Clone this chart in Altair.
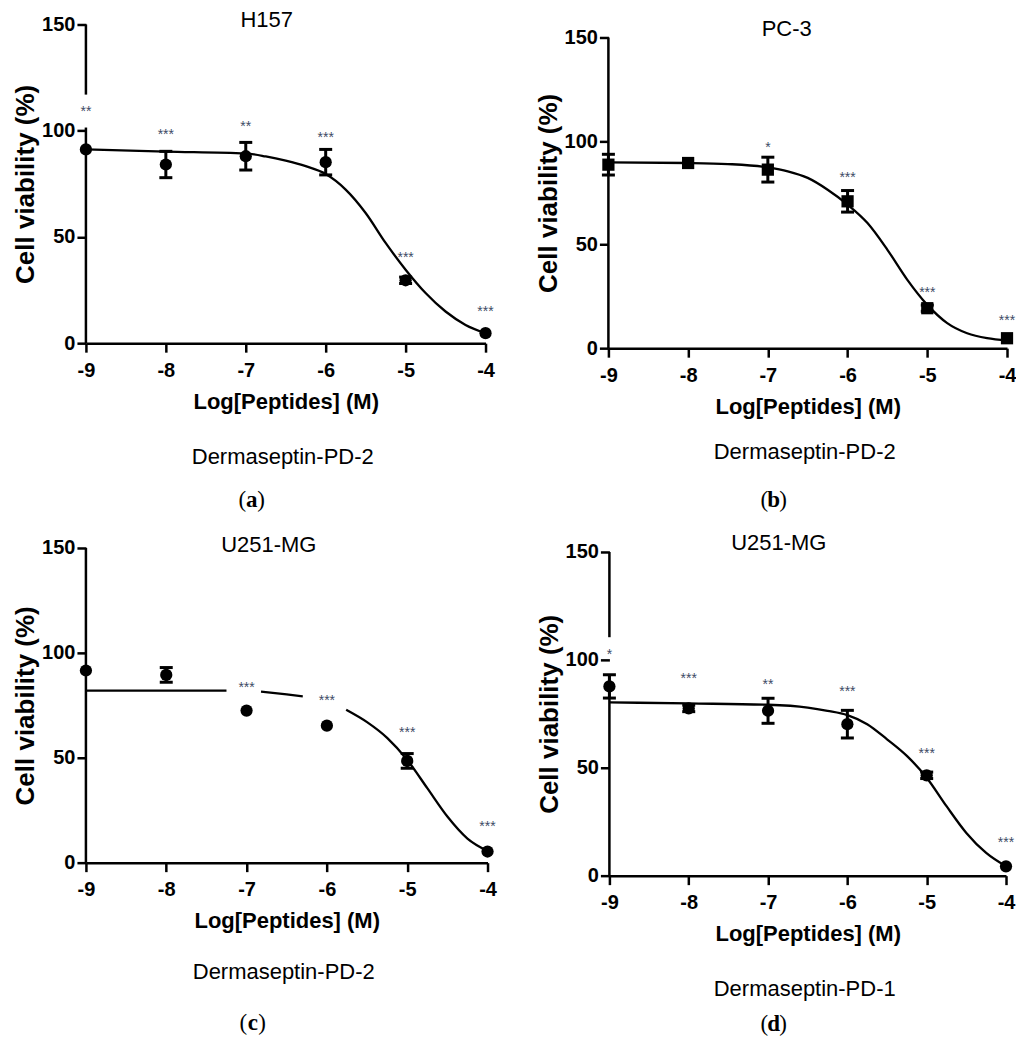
import altair as alt
import pandas as pd

doses = [-9, -8, -7, -6, -5, -4]

# ---- (a) H157, Dermaseptin-PD-2
a_mean = [91.2, 84.1, 88.0, 85.2, 29.6, 4.7]
a_err = [0, 6.2, 6.5, 6.0, 1.5, 0]
a_stars = ["**", "***", "**", "***", "***", "***"]
a_star_y = [110, 99.5, 103, 97.8, 41.6, 16]
a_curve_x = [-9, -8, -7, -6.75, -6.5, -6.25, -6, -5.75, -5.5, -5.25, -5, -4.75, -4.5, -4.25, -4]
a_curve_y = [91.2, 90.2, 89.3, 87.9, 85.9, 83.3, 79.6, 72.3, 61.3, 47.2, 34.6, 23.6, 14.9, 8.6, 4.7]
a_curve_seg = [0] * 15
a_axis_lo = [0, 117]
a_axis_hi = [101.5, 150]

# ---- (b) PC-3, Dermaseptin-PD-2
b_mean = [88.6, 89.4, 86.2, 70.9, 19.3, 4.8]
b_err = [5.0, 0, 6.0, 5.2, 1.5, 0]
b_stars = ["", "", "*", "***", "***", "***"]
b_star_y = [0, 0, 98.3, 83.8, 28.2, 14.8]
b_curve_x = [-9, -8, -7.5, -7, -6.75, -6.5, -6.25, -6, -5.75, -5.5, -5.25, -5, -4.75, -4.5, -4.25, -4]
b_curve_y = [89.7, 89.4, 88.9, 87.3, 85.4, 82.2, 76.5, 69.3, 60.4, 47.5, 33.0, 20.9, 12.1, 7.2, 4.8, 3.7]
b_curve_seg = [0] * 16
b_axis_lo = [0]
b_axis_hi = [150]

# ---- (c) U251-MG, Dermaseptin-PD-2
c_mean = [91.6, 89.5, 72.5, 65.3, 48.5, 5.3]
c_err = [0, 3.5, 0, 0, 3.5, 0]
c_stars = ["", "", "***", "***", "***", "***"]
c_star_y = [0, 0, 84.9, 78.3, 63.4, 18.3]
c_curve_x = [-9, -8, -7.25, -6.82, -6.5, -6.3, -5.76, -5.5, -5.25, -5, -4.75, -4.5, -4.25, -4]
c_curve_y = [82.0, 82.0, 82.0, 81.5, 80.2, 79.3, 72.9, 67.0, 59.5, 49.0, 35.5, 22.0, 11.5, 5.6]
c_curve_seg = [0, 0, 0, 1, 1, 1, 2, 2, 2, 2, 2, 2, 2, 2]
c_axis_lo = [0]
c_axis_hi = [150]

# ---- (d) U251-MG, Dermaseptin-PD-1
d_mean = [87.7, 77.5, 76.4, 70.2, 46.5, 4.3]
d_err = [5.4, 1.5, 5.8, 6.4, 1.5, 0]
d_stars = ["*", "***", "**", "***", "***", "***"]
d_star_y = [103.5, 92.4, 89.9, 86.5, 57.8, 16.7]
d_curve_x = [-9, -8, -7, -6.5, -6.25, -6, -5.75, -5.5, -5.25, -5, -4.75, -4.5, -4.25, -4]
d_curve_y = [80.3, 79.8, 79.2, 77.9, 76.4, 74.4, 70.2, 63.2, 55.5, 45.4, 32.2, 19.8, 10.5, 4.3]
d_curve_seg = [0] * 14
d_axis_lo = [0, 110.5]
d_axis_hi = [93, 150]

SANS = "Liberation Sans, Arial, sans-serif"
SERIF = "Liberation Serif, DejaVu Serif, serif"
STAR_COLOR = "#3d4b66"

XAXIS = alt.Axis(values=doses, labelExpr="'' + datum.value", title="Log[Peptides] (M)",
                 grid=False, domainWidth=2.5, domainColor="black",
                 tickColor="black", tickWidth=2.5, tickSize=9,
                 labelFont=SANS, labelFontSize=20, labelFontWeight="bold",
                 labelColor="black", labelPadding=8, labelFlush=False,
                 titleFont=SANS, titleFontSize=22, titleFontWeight="bold",
                 titleColor="black", titlePadding=11)
YAXIS = alt.Axis(values=[0, 50, 100, 150], title="Cell viability (%)",
                 grid=False, domain=False,
                 tickColor="black", tickWidth=2.5, tickSize=9,
                 labelFont=SANS, labelFontSize=20, labelFontWeight="bold",
                 labelColor="black", labelPadding=2, labelFlush=False,
                 titleFont=SANS, titleFontSize=26, titleFontWeight="bold",
                 titleColor="black", titlePadding=3)


def panel(title, compound, letter, mean, err, stars, star_y, cx, cy, cseg,
          ax_lo, ax_hi, shape, msize, w, h, top, L, R, T, B,
          title_dx, title_dy, comp_dy, letter_dy):
    pts = pd.DataFrame({
        "x": doses, "y": mean,
        "lo": [m - e for m, e in zip(mean, err)],
        "hi": [m + e for m, e in zip(mean, err)],
        "star": stars, "sy": star_y,
    })
    curve = pd.DataFrame({"x": cx, "y": cy, "seg": cseg})
    axdf = pd.DataFrame({"x": [-9] * len(ax_lo), "lo": ax_lo, "hi": ax_hi})
    one = pd.DataFrame({"t": [0]})

    xs = alt.Scale(domain=[-9, -4], nice=False, zero=False)
    ys = alt.Scale(domain=[0, 150], nice=False, zero=True, range=[h, top])

    def X(f):
        return alt.X(f, scale=xs, axis=XAXIS)

    def Y(f):
        return alt.Y(f, scale=ys, axis=YAXIS)

    spacer = alt.Chart(one).mark_rule(strokeOpacity=0, strokeWidth=1).encode(
        x=alt.value(-L), x2=alt.value(w + R), y=alt.value(-T), y2=alt.value(h + B))

    yline = alt.Chart(axdf).mark_rule(color="black", strokeWidth=2.5).encode(
        x=X("x:Q"), y=Y("lo:Q"), y2="hi:Q")

    line = alt.Chart(curve).mark_line(color="black", strokeWidth=2.3,
                                      interpolate="monotone").encode(
        x=X("x:Q"), y=Y("y:Q"), detail="seg:N")

    eb = alt.Chart(pts).transform_filter("datum.hi > datum.lo")
    ebar = eb.mark_rule(color="black", strokeWidth=3, opacity=1).encode(
        x=X("x:Q"), y=Y("lo:Q"), y2="hi:Q")
    cap_lo = eb.mark_tick(orient="horizontal", size=13, thickness=3, color="black",
                          opacity=1).encode(x=X("x:Q"), y=Y("lo:Q"))
    cap_hi = eb.mark_tick(orient="horizontal", size=13, thickness=3, color="black",
                          opacity=1).encode(x=X("x:Q"), y=Y("hi:Q"))

    points = alt.Chart(pts).mark_point(shape=shape, filled=True, size=msize,
                                       opacity=1, color="black").encode(
        x=X("x:Q"), y=Y("y:Q"))

    star_txt = alt.Chart(pts).transform_filter("datum.star != ''").mark_text(
        font=SANS, fontSize=14, color=STAR_COLOR, baseline="alphabetic", dy=7).encode(
        x=X("x:Q"), y=Y("sy:Q"), text="star:N")

    ttl = alt.Chart(pd.DataFrame({"t": [title]})).mark_text(
        font=SANS, fontSize=22, color="black", baseline="middle", align="center").encode(
        x=alt.value(w / 2 + title_dx), y=alt.value(title_dy), text="t:N")

    comp = alt.Chart(pd.DataFrame({"t": [compound]})).mark_text(
        font=SANS, fontSize=22, color="black", baseline="middle", align="center").encode(
        x=alt.value(w / 2 - 3), y=alt.value(h + comp_dy), text="t:N")

    lx = w / 2 - 34
    lpar = alt.Chart(pd.DataFrame({"t": ["("]})).mark_text(
        font=SERIF, fontSize=23, color="black", baseline="middle", align="right").encode(
        x=alt.value(lx - 5.5), y=alt.value(h + letter_dy), text="t:N")
    lett = alt.Chart(pd.DataFrame({"t": [letter]})).mark_text(
        font=SERIF, fontSize=23, fontWeight="bold", color="black", baseline="middle",
        align="center").encode(
        x=alt.value(lx), y=alt.value(h + letter_dy), text="t:N")
    rpar = alt.Chart(pd.DataFrame({"t": [")"]})).mark_text(
        font=SERIF, fontSize=23, color="black", baseline="middle", align="left").encode(
        x=alt.value(lx + 5.5), y=alt.value(h + letter_dy), text="t:N")

    return alt.layer(yline, line, ebar, cap_lo, cap_hi, points, star_txt,
                     ttl, comp, lpar, lett, rpar, spacer).properties(width=w, height=h)


pa = panel("H157", "Dermaseptin-PD-2", "a", a_mean, a_err, a_stars, a_star_y,
           a_curve_x, a_curve_y, a_curve_seg, a_axis_lo, a_axis_hi, "circle", 150,
           w=400, h=319, top=0, L=78, R=34, T=13, B=174,
           title_dx=-19, title_dy=-4.5, comp_dy=114, letter_dy=157)
pb = panel("PC-3", "Dermaseptin-PD-2", "b", b_mean, b_err, b_stars, b_star_y,
           b_curve_x, b_curve_y, b_curve_seg, b_axis_lo, b_axis_hi, "square", 150,
           w=399, h=324, top=13, L=89, R=6, T=13, B=169,
           title_dx=-21, title_dy=4.7, comp_dy=104, letter_dy=152)
pc = panel("U251-MG", "Dermaseptin-PD-2", "c", c_mean, c_err, c_stars, c_star_y,
           c_curve_x, c_curve_y, c_curve_seg, c_axis_lo, c_axis_hi, "circle", 150,
           w=402, h=315, top=0, L=77, R=33, T=31, B=170,
           title_dx=-18, title_dy=-2.7, comp_dy=109, letter_dy=161)
pd_ = panel("U251-MG", "Dermaseptin-PD-1", "d", d_mean, d_err, d_stars, d_star_y,
            d_curve_x, d_curve_y, d_curve_seg, d_axis_lo, d_axis_hi, "circle", 150,
            w=397, h=328, top=4, L=89, R=6, T=31, B=160,
            title_dx=-29, title_dy=-5.2, comp_dy=113, letter_dy=149)

row1 = alt.hconcat(pa, pb, spacing=0)
row2 = alt.hconcat(pc, pd_, spacing=0)
chart = alt.vconcat(row1, row2, spacing=0).properties(
    padding=0, background="white").configure_view(stroke=None)

chart.save("out.html", embed_options={"renderer": "svg", "actions": False})
